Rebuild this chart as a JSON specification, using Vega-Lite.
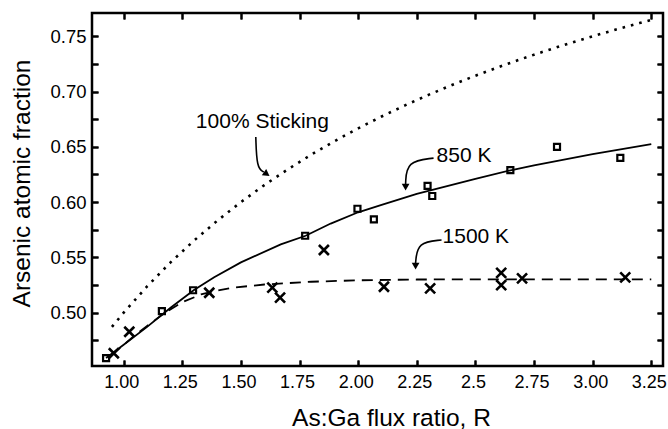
{
  "$schema": "https://vega.github.io/schema/vega-lite/v6.json",
  "autosize": {"type": "none"},
  "padding": {"left": 92, "top": 13, "right": 5, "bottom": 63},
  "width": 571,
  "height": 353,
  "background": "white",
  "config": {
    "view": {"stroke": "black", "strokeWidth": 2.5},
    "font": "Liberation Sans",
    "axis": {"domain": false, "labelColor": "black", "titleColor": "black", "labelFont": "Liberation Sans", "titleFont": "Liberation Sans", "titleFontWeight": "normal"}
  },
  "data": {"values": [
    {"kind": "curve", "series": "sticking", "R": 0.95, "frac": 0.4872},
    {"kind": "curve", "series": "sticking", "R": 1.0, "frac": 0.5},
    {"kind": "curve", "series": "sticking", "R": 1.1, "frac": 0.5238},
    {"kind": "curve", "series": "sticking", "R": 1.2, "frac": 0.5455},
    {"kind": "curve", "series": "sticking", "R": 1.3, "frac": 0.5652},
    {"kind": "curve", "series": "sticking", "R": 1.4, "frac": 0.5833},
    {"kind": "curve", "series": "sticking", "R": 1.5, "frac": 0.6},
    {"kind": "curve", "series": "sticking", "R": 1.6, "frac": 0.6154},
    {"kind": "curve", "series": "sticking", "R": 1.7, "frac": 0.6296},
    {"kind": "curve", "series": "sticking", "R": 1.8, "frac": 0.6429},
    {"kind": "curve", "series": "sticking", "R": 1.9, "frac": 0.6552},
    {"kind": "curve", "series": "sticking", "R": 2.0, "frac": 0.6667},
    {"kind": "curve", "series": "sticking", "R": 2.1, "frac": 0.6774},
    {"kind": "curve", "series": "sticking", "R": 2.2, "frac": 0.6875},
    {"kind": "curve", "series": "sticking", "R": 2.3, "frac": 0.697},
    {"kind": "curve", "series": "sticking", "R": 2.4, "frac": 0.7059},
    {"kind": "curve", "series": "sticking", "R": 2.5, "frac": 0.7143},
    {"kind": "curve", "series": "sticking", "R": 2.6, "frac": 0.7222},
    {"kind": "curve", "series": "sticking", "R": 2.7, "frac": 0.7297},
    {"kind": "curve", "series": "sticking", "R": 2.8, "frac": 0.7368},
    {"kind": "curve", "series": "sticking", "R": 2.9, "frac": 0.7436},
    {"kind": "curve", "series": "sticking", "R": 3.0, "frac": 0.75},
    {"kind": "curve", "series": "sticking", "R": 3.1, "frac": 0.7561},
    {"kind": "curve", "series": "sticking", "R": 3.2, "frac": 0.7619},
    {"kind": "curve", "series": "sticking", "R": 3.25, "frac": 0.7647},
    {"kind": "curve", "series": "850 K", "R": 0.925, "frac": 0.459},
    {"kind": "curve", "series": "850 K", "R": 1.0, "frac": 0.471},
    {"kind": "curve", "series": "850 K", "R": 1.1, "frac": 0.4872},
    {"kind": "curve", "series": "850 K", "R": 1.2, "frac": 0.5045},
    {"kind": "curve", "series": "850 K", "R": 1.3, "frac": 0.5205},
    {"kind": "curve", "series": "850 K", "R": 1.386, "frac": 0.532},
    {"kind": "curve", "series": "850 K", "R": 1.5, "frac": 0.5455},
    {"kind": "curve", "series": "850 K", "R": 1.67, "frac": 0.5618},
    {"kind": "curve", "series": "850 K", "R": 1.776, "frac": 0.5696},
    {"kind": "curve", "series": "850 K", "R": 1.883, "frac": 0.5806},
    {"kind": "curve", "series": "850 K", "R": 2.0, "frac": 0.5908},
    {"kind": "curve", "series": "850 K", "R": 2.1, "frac": 0.5975},
    {"kind": "curve", "series": "850 K", "R": 2.25, "frac": 0.6075},
    {"kind": "curve", "series": "850 K", "R": 2.5, "frac": 0.621},
    {"kind": "curve", "series": "850 K", "R": 2.65, "frac": 0.6288},
    {"kind": "curve", "series": "850 K", "R": 2.75, "frac": 0.6332},
    {"kind": "curve", "series": "850 K", "R": 3.0, "frac": 0.6433},
    {"kind": "curve", "series": "850 K", "R": 3.25, "frac": 0.6525},
    {"kind": "curve", "series": "1500 K", "R": 0.95, "frac": 0.462},
    {"kind": "curve", "series": "1500 K", "R": 1.0, "frac": 0.471},
    {"kind": "curve", "series": "1500 K", "R": 1.05, "frac": 0.48},
    {"kind": "curve", "series": "1500 K", "R": 1.1, "frac": 0.488},
    {"kind": "curve", "series": "1500 K", "R": 1.17, "frac": 0.499},
    {"kind": "curve", "series": "1500 K", "R": 1.25, "frac": 0.5095},
    {"kind": "curve", "series": "1500 K", "R": 1.33, "frac": 0.5165},
    {"kind": "curve", "series": "1500 K", "R": 1.4, "frac": 0.52},
    {"kind": "curve", "series": "1500 K", "R": 1.46, "frac": 0.5225},
    {"kind": "curve", "series": "1500 K", "R": 1.6, "frac": 0.5255},
    {"kind": "curve", "series": "1500 K", "R": 1.8, "frac": 0.528},
    {"kind": "curve", "series": "1500 K", "R": 2.0, "frac": 0.5293},
    {"kind": "curve", "series": "1500 K", "R": 2.25, "frac": 0.53},
    {"kind": "curve", "series": "1500 K", "R": 2.5, "frac": 0.5302},
    {"kind": "curve", "series": "1500 K", "R": 3.25, "frac": 0.5302},
    {"kind": "point", "series": "850 K", "R": 0.925, "frac": 0.459},
    {"kind": "point", "series": "850 K", "R": 1.163, "frac": 0.5015},
    {"kind": "point", "series": "850 K", "R": 1.296, "frac": 0.5203},
    {"kind": "point", "series": "850 K", "R": 1.774, "frac": 0.5696},
    {"kind": "point", "series": "850 K", "R": 1.997, "frac": 0.594},
    {"kind": "point", "series": "850 K", "R": 2.067, "frac": 0.5844},
    {"kind": "point", "series": "850 K", "R": 2.296, "frac": 0.6146},
    {"kind": "point", "series": "850 K", "R": 2.316, "frac": 0.6055},
    {"kind": "point", "series": "850 K", "R": 2.649, "frac": 0.629},
    {"kind": "point", "series": "850 K", "R": 2.848, "frac": 0.65},
    {"kind": "point", "series": "850 K", "R": 3.118, "frac": 0.64},
    {"kind": "point", "series": "1500 K", "R": 0.958, "frac": 0.4633},
    {"kind": "point", "series": "1500 K", "R": 1.024, "frac": 0.4828},
    {"kind": "point", "series": "1500 K", "R": 1.365, "frac": 0.518},
    {"kind": "point", "series": "1500 K", "R": 1.634, "frac": 0.5226},
    {"kind": "point", "series": "1500 K", "R": 1.667, "frac": 0.5136},
    {"kind": "point", "series": "1500 K", "R": 1.854, "frac": 0.5567},
    {"kind": "point", "series": "1500 K", "R": 2.11, "frac": 0.5235},
    {"kind": "point", "series": "1500 K", "R": 2.307, "frac": 0.522},
    {"kind": "point", "series": "1500 K", "R": 2.61, "frac": 0.536},
    {"kind": "point", "series": "1500 K", "R": 2.61, "frac": 0.525},
    {"kind": "point", "series": "1500 K", "R": 2.699, "frac": 0.531},
    {"kind": "point", "series": "1500 K", "R": 3.139, "frac": 0.532},
    {"kind": "arrow", "id": "a850", "seq": 1, "R": 2.3215, "frac": 0.6398},
    {"kind": "arrow", "id": "a850", "seq": 2, "R": 2.2066, "frac": 0.6371},
    {"kind": "arrow", "id": "a850", "seq": 3, "R": 2.2023, "frac": 0.6163},
    {"kind": "arrow", "id": "a1500", "seq": 1, "R": 2.3556, "frac": 0.5657},
    {"kind": "arrow", "id": "a1500", "seq": 2, "R": 2.2534, "frac": 0.5639},
    {"kind": "arrow", "id": "a1500", "seq": 3, "R": 2.2449, "frac": 0.5449},
    {"kind": "arrow", "id": "astick", "seq": 1, "R": 1.5635, "frac": 0.6588},
    {"kind": "arrow", "id": "astick", "seq": 2, "R": 1.5677, "frac": 0.6308},
    {"kind": "arrow", "id": "astick", "seq": 3, "R": 1.5975, "frac": 0.6272},
    {"kind": "headDown", "id": "a850", "R": 2.2023, "frac": 0.6135},
    {"kind": "headDown", "id": "a1500", "R": 2.2449, "frac": 0.5422},
    {"kind": "headSide", "id": "astick", "R": 1.6103, "frac": 0.6254},
    {"kind": "label", "text": "850 K", "R": 2.3343, "frac": 0.6416},
    {"kind": "label", "text": "1500 K", "R": 2.3599, "frac": 0.5681},
    {"kind": "label", "text": "100% Sticking", "R": 1.3079, "frac": 0.6726}
  ]},
  "encoding": {
    "x": {"field": "R", "type": "quantitative", "scale": {"domain": [0.865, 3.3], "nice": false, "zero": false}, "axis": null},
    "y": {"field": "frac", "type": "quantitative", "scale": {"domain": [0.4518, 0.771], "nice": false, "zero": false}, "axis": null}
  },
  "resolve": {"axis": {"x": "independent", "y": "independent"}},
  "layer": [
    {
      "transform": [{"filter": "datum.kind === 'point' && datum.series === '850 K'"}],
      "mark": {"type": "point", "shape": "square", "size": 36, "filled": false, "stroke": "black", "strokeWidth": 2.2, "opacity": 1},
      "encoding": {
        "x": {"field": "R", "type": "quantitative", "scale": {"domain": [0.865, 3.3], "nice": false, "zero": false},
          "axis": {"orient": "bottom", "values": [1, 1.25, 1.5, 1.75, 2, 2.25, 2.5, 2.75, 3, 3.25], "labelExpr": "datum.value == 2.5 ? '2.5' : format(datum.value, '.2f')", "tickColor": "black", "tickSize": -6, "tickWidth": 2, "grid": true, "gridColor": "black", "gridOpacity": 1, "gridWidth": 2, "gridDash": [6, 2000], "labelPadding": 13, "labelOffset": -2.5, "labelFontSize": 18, "title": "As:Ga flux ratio, R", "titleFontSize": 24.5, "titleX": 299, "titleY": 59, "titleBaseline": "alphabetic"}},
        "y": {"field": "frac", "type": "quantitative", "scale": {"domain": [0.4518, 0.771], "nice": false, "zero": false},
          "axis": {"orient": "left", "values": [0.475, 0.5, 0.525, 0.55, 0.575, 0.6, 0.625, 0.65, 0.675, 0.7, 0.725, 0.75], "labelExpr": "round(datum.value * 1000) % 50 == 0 ? format(datum.value, '.2f') : ''", "tickColor": "black", "tickSize": -6, "tickWidth": 2, "grid": true, "gridColor": "black", "gridOpacity": 1, "gridWidth": 2, "gridDash": [6, 2000], "labelPadding": 12, "labelFontSize": 18.5, "title": "Arsenic atomic fraction", "titleFontSize": 24.5, "titleX": -63, "titleY": 170, "titleAngle": -90, "titleBaseline": "alphabetic"}}
      }
    },
    {
      "transform": [{"filter": "datum.kind === 'point' && datum.series === '1500 K'"}],
      "mark": {"type": "point", "shape": "M-1,-1L1,1M-1,1L1,-1", "size": 100, "filled": false, "stroke": "black", "strokeWidth": 2.6, "opacity": 1},
      "encoding": {
        "x": {"field": "R", "type": "quantitative", "scale": {"domain": [0.865, 3.3], "nice": false, "zero": false},
          "axis": {"orient": "top", "values": [1, 1.25, 1.5, 1.75, 2, 2.25, 2.5, 2.75, 3, 3.25], "labels": false, "tickColor": "black", "tickSize": -6, "tickWidth": 2, "grid": true, "gridColor": "black", "gridOpacity": 1, "gridWidth": 2, "gridDash": [6, 2000], "title": null}},
        "y": {"field": "frac", "type": "quantitative", "scale": {"domain": [0.4518, 0.771], "nice": false, "zero": false},
          "axis": {"orient": "right", "values": [0.475, 0.5, 0.525, 0.55, 0.575, 0.6, 0.625, 0.65, 0.675, 0.7, 0.725, 0.75], "labels": false, "tickColor": "black", "tickSize": -6, "tickWidth": 2, "grid": true, "gridColor": "black", "gridOpacity": 1, "gridWidth": 2, "gridDash": [6, 2000], "title": null}}
      }
    },
    {
      "transform": [{"filter": "datum.kind === 'curve' && datum.series === 'sticking'"}],
      "mark": {"type": "line", "color": "black", "strokeWidth": 2.6, "strokeDash": [2.6, 6]},
      "encoding": {}
    },
    {
      "transform": [{"filter": "datum.kind === 'curve' && datum.series === '850 K'"}],
      "mark": {"type": "line", "color": "black", "strokeWidth": 1.8},
      "encoding": {}
    },
    {
      "transform": [{"filter": "datum.kind === 'curve' && datum.series === '1500 K'"}],
      "mark": {"type": "line", "color": "black", "strokeWidth": 1.8, "strokeDash": [11, 7]},
      "encoding": {}
    },
    {
      "transform": [{"filter": "datum.kind === 'arrow'"}],
      "mark": {"type": "line", "color": "black", "strokeWidth": 1.6, "interpolate": "basis"},
      "encoding": {
        "detail": {"field": "id"},
        "order": {"field": "seq", "type": "quantitative"}
      }
    },
    {
      "transform": [{"filter": "datum.kind === 'headDown'"}],
      "mark": {"type": "point", "shape": "triangle-down", "size": 60, "filled": true, "color": "black", "opacity": 1},
      "encoding": {}
    },
    {
      "transform": [{"filter": "datum.kind === 'headSide'"}],
      "mark": {"type": "point", "shape": "triangle-right", "size": 60, "filled": true, "color": "black", "opacity": 1, "angle": 35},
      "encoding": {}
    },
    {
      "transform": [{"filter": "datum.kind === 'label'"}],
      "mark": {"type": "text", "align": "left", "baseline": "middle", "fontSize": 21, "font": "Liberation Sans", "color": "black"},
      "encoding": {"text": {"field": "text"}}
    }
  ]
}
